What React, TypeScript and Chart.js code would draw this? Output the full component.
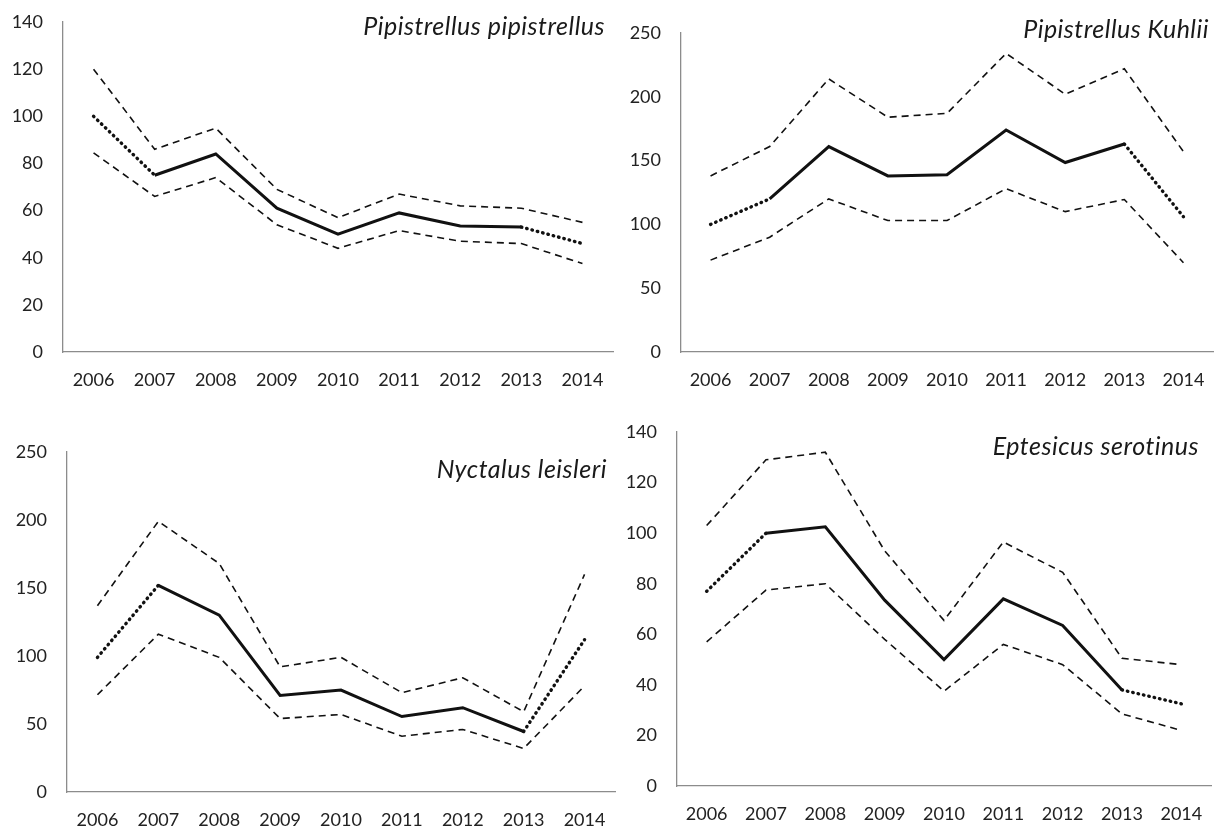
import React, { useEffect, useRef } from "react";
import { Chart, registerables } from "chart.js";

Chart.register(...registerables);

const years = ["2006", "2007", "2008", "2009", "2010", "2011", "2012", "2013", "2014"];

const pipMean = [100, 75, 84, 61, 50, 59, 53.5, 53, 46];
const pipUpper = [120, 86, 95, 69, 57, 67, 62, 61, 55];
const pipLower = [84.5, 66, 74, 54, 44, 51.5, 47, 46, 37.5];

const kuhMean = [100, 120, 161, 138, 139, 174, 148.5, 163, 106];
const kuhUpper = [138, 161, 214, 184, 187, 234, 202, 222, 157];
const kuhLower = [72, 90, 120, 103, 103, 128, 110, 119.5, 70];

const nycMean = [99, 152, 130, 71, 75, 55.5, 62, 44.5, 112];
const nycUpper = [137, 199, 168, 92, 99, 73, 84, 59, 160];
const nycLower = [71.5, 116, 99, 54, 57, 41, 46, 32, 78];

const eptMean = [77, 100, 102.5, 73.5, 50, 74, 63.5, 38, 32.5];
const eptUpper = [103, 129, 132, 93, 65.5, 96.5, 84.5, 50.5, 48];
const eptLower = [57, 77.5, 80, 58, 37.5, 56, 48, 28.5, 22];

type PanelProps = {
  title: string;
  mean: number[];
  upper: number[];
  lower: number[];
  yMax: number;
  yStep: number;
  left: number;
  top: number;
  width: number;
  height: number;
  padTop: number;
  padRight: number;
  yAxisWidth: number;
  xAxisHeight: number;
  titleRight: number;
  titleBaseline: number;
};

const FONT = "Lato, 'Open Sans', sans-serif";

function Panel(p: PanelProps) {
  const ref = useRef<HTMLCanvasElement | null>(null);
  useEffect(() => {
    if (!ref.current) return;
    const last = p.mean.length - 2;
    const titlePlugin = {
      id: "panelTitle",
      afterDraw(chart: any) {
        const ctx = chart.ctx;
        ctx.save();
        ctx.font = `italic 25px ${FONT}`;
        try {
          (ctx as any).letterSpacing = "0.5px";
        } catch (e) {}
        ctx.fillStyle = "#1a1a1a";
        ctx.textAlign = "right";
        ctx.textBaseline = "alphabetic";
        ctx.fillText(p.title, p.titleRight, p.titleBaseline);
        ctx.restore();
      },
    };
    const isDot = (ctx: any) => ctx.p0DataIndex === 0 || ctx.p0DataIndex === last;
    const chart = new Chart(ref.current, {
      type: "line",
      data: {
        labels: years,
        datasets: [
          {
            data: p.upper,
            borderColor: "#111",
            borderWidth: 1.6,
            borderDash: [7, 5],
            pointRadius: 0,
            fill: false,
            tension: 0,
          },
          {
            data: p.lower,
            borderColor: "#111",
            borderWidth: 1.6,
            borderDash: [7, 5],
            pointRadius: 0,
            fill: false,
            tension: 0,
          },
          {
            data: p.mean,
            borderColor: "#111",
            borderWidth: 3,
            pointRadius: 0,
            fill: false,
            tension: 0,
            segment: {
              borderDash: (ctx: any) => (isDot(ctx) ? [0.5, 5] : undefined),
              borderCapStyle: (ctx: any) => (isDot(ctx) ? "round" : "butt"),
              borderWidth: (ctx: any) => (isDot(ctx) ? 3.4 : 3),
            },
          },
        ],
      },
      options: {
        animation: false,
        responsive: false,
        events: [],
        layout: { padding: { top: p.padTop, right: p.padRight, left: 0, bottom: 0 } },
        plugins: {
          legend: { display: false },
          tooltip: { enabled: false },
          title: { display: false },
        },
        scales: {
          x: {
            offset: true,
            grid: { display: true, color: "rgba(0,0,0,0)", drawTicks: true, tickLength: 17 },
            border: { display: true, color: "#8c8c8c", width: 1.3 },
            ticks: {
              color: "#222",
              font: { family: FONT, size: 18 },
              padding: 0,
              maxRotation: 0,
              autoSkip: false,
            },
            afterFit: (scale: any) => {
              scale.height = p.xAxisHeight;
            },
          },
          y: {
            min: 0,
            max: p.yMax,
            grid: { display: true, color: "rgba(0,0,0,0)", drawTicks: true, tickLength: 20 },
            border: { display: true, color: "#8c8c8c", width: 1.3 },
            ticks: {
              stepSize: p.yStep,
              color: "#222",
              font: { family: FONT, size: 18 },
              padding: 0,
            },
            afterFit: (scale: any) => {
              scale.width = p.yAxisWidth;
            },
          },
        },
      },
      plugins: [titlePlugin],
    });
    return () => chart.destroy();
  }, []);
  return (
    <div style={{ position: "absolute", left: p.left, top: p.top, width: p.width, height: p.height }}>
      <canvas ref={ref} width={p.width} height={p.height} style={{ display: "block" }} />
    </div>
  );
}

export default function App() {
  return (
    <div
      style={{
        position: "absolute",
        left: 0,
        top: 0,
        width: 1219,
        height: 828,
        background: "#fff",
        overflow: "hidden",
      }}
    >
      <Panel
        title="Pipistrellus pipistrellus"
        mean={pipMean}
        upper={pipUpper}
        lower={pipLower}
        yMax={140}
        yStep={20}
        left={0}
        top={0}
        width={620}
        height={400}
        padTop={22}
        padRight={7}
        yAxisWidth={63}
        xAxisHeight={48}
        titleRight={605}
        titleBaseline={35}
      />
      <Panel
        title="Pipistrellus Kuhlii"
        mean={kuhMean}
        upper={kuhUpper}
        lower={kuhLower}
        yMax={250}
        yStep={50}
        left={620}
        top={0}
        width={599}
        height={400}
        padTop={33}
        padRight={6}
        yAxisWidth={61}
        xAxisHeight={48}
        titleRight={589}
        titleBaseline={38}
      />
      <Panel
        title="Nyctalus leisleri"
        mean={nycMean}
        upper={nycUpper}
        lower={nycLower}
        yMax={250}
        yStep={50}
        left={0}
        top={410}
        width={620}
        height={418}
        padTop={42}
        padRight={5}
        yAxisWidth={67}
        xAxisHeight={36}
        titleRight={607}
        titleBaseline={68}
      />
      <Panel
        title="Eptesicus serotinus"
        mean={eptMean}
        upper={eptUpper}
        lower={eptLower}
        yMax={140}
        yStep={20}
        left={620}
        top={410}
        width={599}
        height={418}
        padTop={22}
        padRight={8}
        yAxisWidth={57}
        xAxisHeight={42}
        titleRight={579}
        titleBaseline={45}
      />
    </div>
  );
}
